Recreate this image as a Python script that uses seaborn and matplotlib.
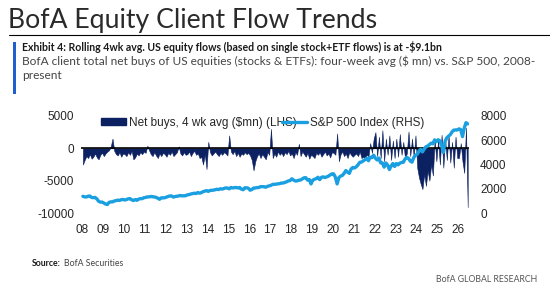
import pandas as pd
import matplotlib
matplotlib.use('Agg')
import matplotlib.pyplot as plt
from matplotlib.lines import Line2D
from matplotlib.patches import Rectangle, Patch
import seaborn as sns

# monthly series, Jan 2008 .. Jun 2026
start_year = 2008

net_buys = [
    -2500, -1800, -1200, -1500, -900, -1600, -1300, -800, -1400, -1700, -1000, -700,   # 08
    -1200, -800, -500, -300, 300, 1500, -400, -900, -1100, -600, -1300, -800,          # 09
    -900, -1200, -600, -1000, -400, -1700, -1400, -800, -1100, -600, -900, -500,       # 10
    -700, 400, -300, -900, -1200, -600, -1100, -1500, -800, -1200, -700, -900,         # 11
    -1300, -700, -1000, -500, -1200, -900, -600, 300, -800, -1100, -600, -1000,        # 12
    -900, -500, -1200, -700, -400, -1000, -800, -1500, -1300, -2500, -900, -3200,      # 13
    1000, -600, -1100, -800, -500, -900, -1200, -700, -1000, -600, -800, -1100,        # 14
    2000, -500, -900, -400, -1200, -700, -1300, -800, -1000, -600, -900, -700,         # 15
    -1100, -1800, -3400, -2000, -1200, -800, -1500, -900, -1300, -1700, -600, -1000,   # 16
    3000, -1500, -800, -1300, -500, -1000, -700, -1200, -600, -900, -400, -1100,       # 17
    -800, -1500, -600, -1000, 700, -1200, -500, -900, -1300, -700, -1600, -1000,       # 18
    -1200, -1500, -700, -1000, -600, -1300, -900, -500, -1100, -800, -1400, -600,      # 19
    -700, -1000, 2300, -2000, -900, -500, -1200, -800, -1500, -600, -1000, -1300,      # 20
    -1000, -800, -1200, -500, -1500, -1300, -1600, -1000, -1200, 800, -700, 1500,      # 21
    2500, -1200, 1800, -1500, 2800, -2000, 1500, -1000, 2000, -1800, 1200, -1500,      # 22
    1500, -1300, 2200, -1000, 1000, -1600, -800, 2600, -1200, 1500, -1400, 2000,       # 23
    -3000, -4500, -5500, -6300, -4000, -5800, -3500, -5000, -2500, -4200, 1300, -2000, # 24
    1300, -2500, 2100, -3000, 1500, -1800, 2000, -2200, 1000, -3000, 1800, -1500,      # 25
    -1500, 800, -2000, -3800, 3200, -9100,                                             # 26
]

sp500 = [
    1378, 1331, 1323, 1386, 1400, 1280, 1267, 1283, 1166, 969, 896, 903,
    826, 735, 700, 873, 919, 919, 987, 1021, 1057, 1036, 1096, 1115,
    1074, 1104, 1169, 1187, 1089, 1031, 1102, 1049, 1141, 1183, 1181, 1258,
    1286, 1327, 1326, 1364, 1345, 1321, 1292, 1219, 1131, 1253, 1247, 1258,
    1312, 1366, 1408, 1398, 1310, 1362, 1379, 1407, 1441, 1412, 1416, 1426,
    1498, 1515, 1569, 1598, 1631, 1606, 1686, 1633, 1682, 1757, 1806, 1848,
    1783, 1859, 1872, 1884, 1924, 1960, 1931, 2003, 1972, 2018, 2068, 2059,
    1995, 2105, 2068, 2086, 2107, 2063, 2104, 1972, 1920, 2079, 2080, 2044,
    1880, 1932, 2060, 2065, 2097, 2099, 2174, 2171, 2168, 2126, 2199, 2239,
    2279, 2364, 2363, 2384, 2412, 2423, 2470, 2472, 2519, 2575, 2648, 2674,
    2824, 2714, 2641, 2648, 2705, 2718, 2816, 2902, 2914, 2712, 2760, 2400,
    2704, 2784, 2834, 2946, 2752, 2942, 2980, 2926, 2977, 3038, 3141, 3231,
    3226, 2954, 2400, 2912, 3044, 3100, 3271, 3500, 3363, 3270, 3622, 3756,
    3714, 3811, 3973, 4181, 4204, 4298, 4395, 4523, 4308, 4605, 4567, 4766,
    4516, 4374, 4530, 4132, 4132, 3785, 4130, 3955, 3586, 3872, 4080, 3840,
    4077, 3970, 4109, 4169, 4180, 4450, 4589, 4508, 4288, 4194, 4568, 4770,
    4846, 5096, 5254, 5036, 5278, 5460, 5522, 5648, 5762, 5705, 6032, 5882,
    6041, 5955, 5612, 5000, 5912, 6205, 6339, 6460, 6688, 6840, 6849, 6845,
    6940, 6880, 6300, 7000, 7450, 7350,
]

year_ticks = list(range(2008, 2027))
year_labels = ['%02d' % (y % 100) for y in year_ticks]
left_ticks = [5000, 0, -5000, -10000]
right_ticks = [0, 2000, 4000, 6000, 8000]

navy = '#0c2161'
sky = '#1a9fe0'

df = pd.DataFrame({'net': net_buys, 'spx': sp500})
df['date'] = [start_year + (i + 0.5) / 12 for i in range(len(df))]

sns.set_style('white')
plt.rcParams['font.family'] = ['Liberation Sans', 'DejaVu Sans']
lato = ['Lato', 'DejaVu Sans']

W, H = 550, 288
fig = plt.figure(figsize=(W / 100, H / 100), dpi=100)
ax = fig.add_axes([81 / W, 1 - 213 / H, 388 / W, 97 / H])

# flows drawn as a filled spiky area from the zero line
ax.fill_between(df['date'], 0, df['net'], color=navy, lw=0.4, edgecolor=navy)
ax.axhline(0, color='black', lw=1.2, zorder=3)

ax2 = ax.twinx()
sns.lineplot(data=df, x='date', y='spx', color=sky, lw=2.4, ax=ax2)

ax.set_xlim(2007.95, 2026.52)
ax2.set_xlim(2007.95, 2026.52)
ax.set_ylim(-10000, 5000)
ax2.set_ylim(0, 8000)

ax.set_xticks(year_ticks)
ax.set_xticklabels(year_labels)
ax.set_yticks(left_ticks)
ax.set_yticklabels([str(v) for v in left_ticks])
ax2.set_yticks(right_ticks)
ax2.set_yticklabels([str(v) for v in right_ticks])
ax.set_xlabel('')
ax.set_ylabel('')
ax2.set_ylabel('')
ax.tick_params(axis='x', length=0, pad=8, labelsize=8.5)
ax.tick_params(axis='y', length=0, pad=5, labelsize=8.5)
ax2.tick_params(axis='y', length=0, pad=8, labelsize=8.5)
for a in (ax, ax2):
    for s in a.spines.values():
        s.set_visible(False)
    a.grid(False)

handles = [Patch(color=navy), Line2D([], [], color=sky, lw=2.4)]
labels = ['Net buys, 4 wk avg (\\$mn) (LHS)', 'S&P 500 Index (RHS)']
fig.legend(handles, labels, loc='center left', bbox_to_anchor=(101 / W, 1 - 123 / H),
           ncol=2, frameon=False, fontsize=8.5, handlelength=2.1, handleheight=0.5,
           handletextpad=0.25, columnspacing=-1.2, borderpad=0, borderaxespad=0)

# header
fig.text(8 / W, 1 - 28 / H, 'BofA Equity Client Flow Trends', fontsize=19.2,
         family=lato, color='#2a2a2a', va='baseline')
fig.add_artist(Line2D([9 / W, 1], [1 - 35 / H] * 2, color='black', lw=0.8))
fig.add_artist(Rectangle((13 / W, 1 - 94 / H), 3 / W, 52 / H, color='#1f5fd0', lw=0))
fig.text(22 / W, 1 - 47 / H,
         'Exhibit 4: Rolling 4wk avg. US equity flows (based on single stock+ETF flows) is at -\\$9.1bn',
         fontsize=7.6, weight='bold', family=lato, color='#1a1a1a', va='center')
fig.text(22 / W, 1 - 61 / H,
         'BofA client total net buys of US equities (stocks & ETFs): four-week avg (\\$ mn) vs. S&P 500, 2008-',
         fontsize=8.6, family=lato, color='#444444', va='center')
fig.text(22 / W, 1 - 75 / H, 'present', fontsize=8.6, family=lato,
         color='#444444', va='center')

# footer
src = fig.text(32 / W, 1 - 263 / H, 'Source:', fontsize=6.3, weight='bold',
               family=lato, color='#1a1a1a', va='center')
ax.annotate('BofA Securities', xy=(1, 0.5), xycoords=src, xytext=(2, 0),
            textcoords='offset points', fontsize=6.3, family=lato,
            color='#444444', va='center', ha='left', annotation_clip=False)
fig.text(537 / W, 1 - 280 / H, 'BofA GLOBAL RESEARCH', fontsize=6.3,
         family=lato, color='#555555', va='center', ha='right')

fig.savefig('out.png', dpi=100)
